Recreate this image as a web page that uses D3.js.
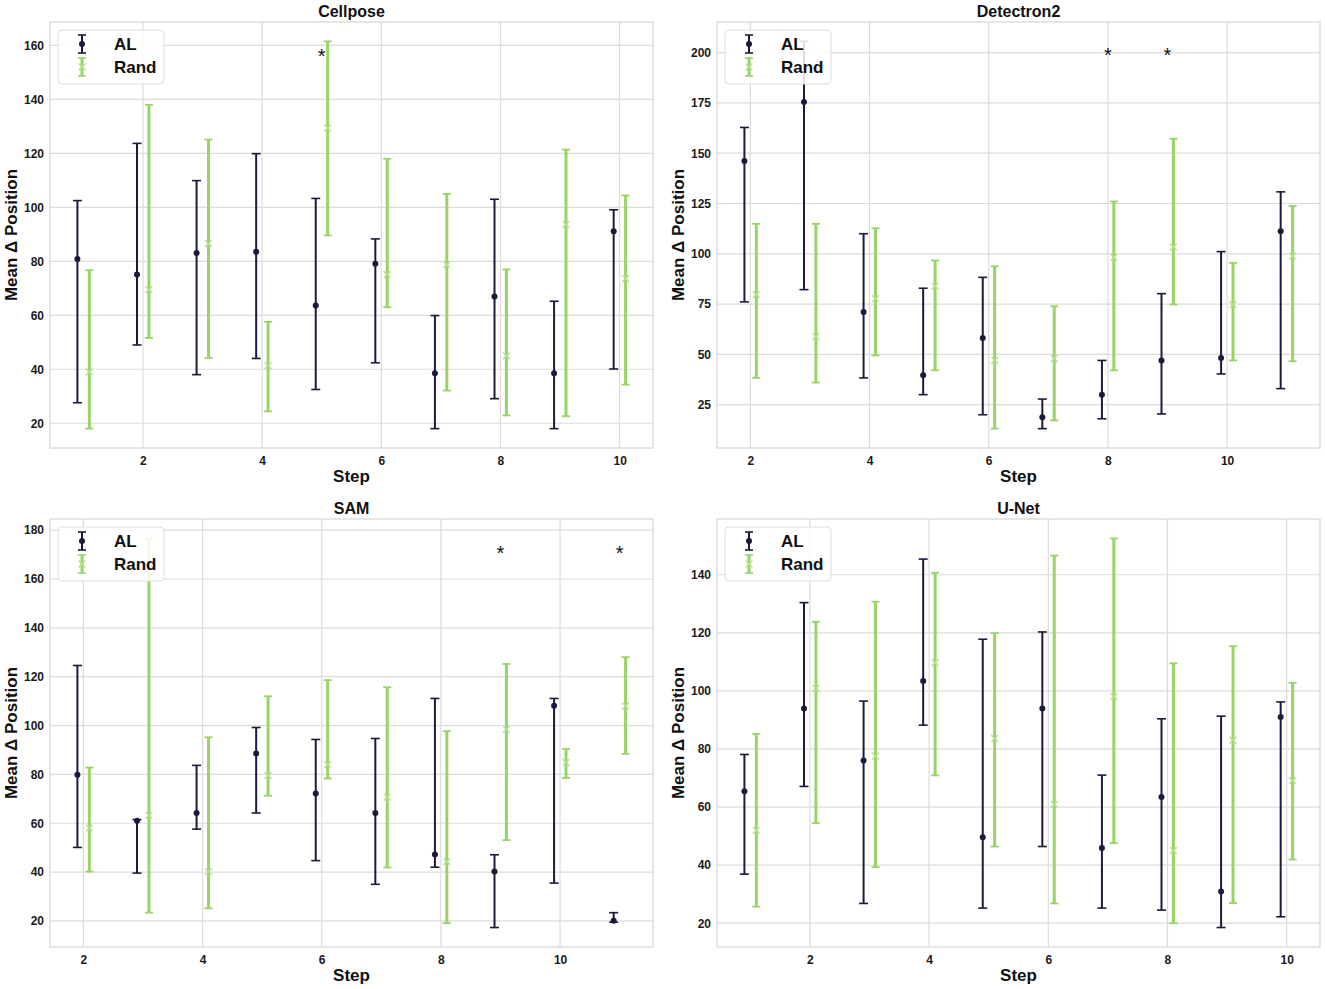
<!DOCTYPE html>
<html>
<head>
<meta charset="utf-8">
<script src="https://cdn.jsdelivr.net/npm/d3@7"></script>
<style>
  body { margin: 0; background: #fff; }
  svg { display: block; font-family: "Liberation Sans", Arial, sans-serif; }
  .tick text { font-weight: bold; font-size: 12px; fill: #1a1a1a; }
</style>
</head>
<body>
<div class="graphic"></div>
<script>
// step positions
var steps1 = [1, 2, 3, 4, 5, 6, 7, 8, 9, 10];
var steps2 = [2, 3, 4, 5, 6, 7, 8, 9, 10, 11];
var xTicks = [2, 4, 6, 8, 10];

// Cellpose
var cellposeAL = [80.9, 75.1, 83.1, 83.5, 63.6, 79.1, 38.5, 67.0, 38.5, 91.1];
var cellposeALlo = [27.6, 49.0, 38.0, 44.0, 32.5, 42.4, 18.0, 29.1, 18.0, 40.1];
var cellposeALhi = [102.5, 123.7, 109.9, 119.9, 103.3, 88.3, 59.9, 103.0, 65.2, 99.1];
var cellposeRand = [39.0, 69.5, 86.6, 41.4, 129.4, 75.1, 78.8, 45.0, 93.6, 73.6];
var cellposeRandlo = [18.0, 51.6, 44.2, 24.4, 89.6, 63.0, 32.1, 22.9, 22.6, 34.3];
var cellposeRandhi = [76.7, 138.0, 125.1, 57.6, 161.5, 118.0, 105.0, 77.0, 121.4, 104.4];
var cellposeStars = [5];
var cellposeTicks = [20, 40, 60, 80, 100, 120, 140, 160];

// Detectron2
var detectronAL = [146.1, 175.4, 71.1, 39.6, 58.2, 18.7, 30.0, 47.0, 48.2, 111.2];
var detectronALlo = [76.1, 82.2, 38.3, 30.0, 20.0, 13.1, 18.0, 20.4, 40.3, 33.0];
var detectronALhi = [162.8, 205.6, 110.0, 82.9, 88.3, 27.8, 47.0, 80.2, 101.1, 130.8];
var detectronRand = [79.7, 58.7, 77.7, 83.9, 47.0, 47.9, 98.3, 103.3, 74.8, 98.8];
var detectronRandlo = [38.3, 36.0, 49.5, 42.1, 13.1, 17.2, 42.1, 74.8, 47.0, 46.6];
var detectronRandhi = [114.9, 114.9, 112.7, 96.7, 93.8, 73.9, 126.0, 157.2, 95.5, 123.7];
var detectronStars = [8, 9];
var detectronTicks = [25, 50, 75, 100, 125, 150, 175, 200];

// SAM
var samAL = [79.9, 61.0, 64.2, 88.6, 72.2, 64.2, 47.2, 40.2, 108.1, 20.1];
var samALlo = [50.1, 39.6, 57.6, 64.2, 44.7, 35.0, 42.0, 17.3, 35.5, 19.5];
var samALhi = [124.6, 61.5, 83.7, 99.2, 94.3, 94.7, 111.1, 47.1, 111.1, 23.4];
var samRand = [58.0, 63.2, 40.2, 79.6, 84.0, 70.7, 44.3, 98.4, 84.9, 107.9];
var samRandlo = [40.2, 23.4, 25.2, 71.3, 78.3, 41.9, 19.1, 53.1, 78.5, 88.4];
var samRandhi = [82.8, 176.6, 95.2, 112.0, 118.6, 115.7, 97.7, 125.2, 90.4, 128.0];
var samStars = [9, 11];
var samTicks = [20, 40, 60, 80, 100, 120, 140, 160, 180];

// U-Net
var unetAL = [65.4, 93.9, 76.0, 103.4, 49.6, 93.9, 45.9, 63.5, 30.9, 91.0];
var unetALlo = [36.9, 67.1, 26.8, 88.2, 25.2, 46.4, 25.2, 24.5, 18.5, 22.2];
var unetALhi = [78.1, 130.4, 96.5, 145.4, 117.8, 120.3, 71.0, 90.4, 91.3, 96.2];
var unetRand = [52.0, 100.9, 77.5, 109.7, 83.6, 60.9, 98.0, 45.0, 83.0, 69.1];
var unetRandlo = [25.7, 54.5, 39.3, 70.9, 46.4, 26.8, 47.6, 20.0, 26.9, 41.9];
var unetRandhi = [85.2, 123.8, 130.7, 140.7, 119.9, 146.6, 152.5, 109.5, 115.4, 102.8];
var unetStars = [];
var unetTicks = [20, 40, 60, 80, 100, 120, 140];

var AL_COLOR = "#1c1a3c";
var RAND_COLOR = "#98d466";
var RAND_MARK = "#b5e08e";

var panels = [
  { title: "Cellpose", steps: steps1, al: cellposeAL, alLo: cellposeALlo, alHi: cellposeALhi,
    rand: cellposeRand, randLo: cellposeRandlo, randHi: cellposeRandhi, stars: cellposeStars, yTicks: cellposeTicks },
  { title: "Detectron2", steps: steps2, al: detectronAL, alLo: detectronALlo, alHi: detectronALhi,
    rand: detectronRand, randLo: detectronRandlo, randHi: detectronRandhi, stars: detectronStars, yTicks: detectronTicks },
  { title: "SAM", steps: steps2, al: samAL, alLo: samALlo, alHi: samALhi,
    rand: samRand, randLo: samRandlo, randHi: samRandhi, stars: samStars, yTicks: samTicks },
  { title: "U-Net", steps: steps1, al: unetAL, alLo: unetALlo, alHi: unetALhi,
    rand: unetRand, randLo: unetRandlo, randHi: unetRandhi, stars: unetStars, yTicks: unetTicks }
];

var W = 1325, H = 989;
var colLeft = [50, 717], plotW = 603;
var rowTop = [22, 519], rowBottom = [448, 947];

var svg = d3.select(".graphic").append("svg").attr("width", W).attr("height", H);

// matplotlib-style autoscale with 5% margins
function padded(lo, hi) {
  var m = (hi - lo) * 0.05;
  return [lo - m, hi + m];
}

function xMark(cx, cy, r) {
  return "M" + (cx - r) + "," + (cy - r) + "L" + (cx + r) + "," + (cy + r) +
         "M" + (cx - r) + "," + (cy + r) + "L" + (cx + r) + "," + (cy - r);
}

panels.forEach(function(p, i) {
  var left = colLeft[i % 2], top = rowTop[Math.floor(i / 2)], bottom = rowBottom[Math.floor(i / 2)];
  var h = bottom - top;
  var g = svg.append("g").attr("transform", "translate(" + left + "," + top + ")");

  var xs = d3.extent(p.steps);
  var x = d3.scaleLinear().domain(padded(xs[0] - 0.1, xs[1] + 0.1)).range([0, plotW]);
  var ylo = d3.min(p.alLo.concat(p.randLo)), yhi = d3.max(p.alHi.concat(p.randHi));
  var y = d3.scaleLinear().domain(padded(ylo, yhi)).range([h, 0]);

  // grid
  g.append("g").selectAll("line").data(p.yTicks).join("line")
    .attr("x1", 0).attr("x2", plotW)
    .attr("y1", function(d) { return y(d); }).attr("y2", function(d) { return y(d); })
    .attr("stroke", "#dcdcdc").attr("stroke-width", 1.2);
  g.append("g").selectAll("line").data(xTicks).join("line")
    .attr("y1", 0).attr("y2", h)
    .attr("x1", function(d) { return x(d); }).attr("x2", function(d) { return x(d); })
    .attr("stroke", "#dcdcdc").attr("stroke-width", 1.2);
  g.append("rect").attr("width", plotW).attr("height", h)
    .attr("fill", "none").attr("stroke", "#d6d6d6").attr("stroke-width", 1.2);

  // axes (labels only)
  var xAxis = g.append("g").attr("transform", "translate(0," + h + ")")
    .call(d3.axisBottom(x).tickValues(xTicks).tickFormat(d3.format("d")).tickSize(0).tickPadding(8));
  xAxis.select(".domain").remove();
  var yAxis = g.append("g")
    .call(d3.axisLeft(y).tickValues(p.yTicks).tickFormat(d3.format("d")).tickSize(0).tickPadding(6));
  yAxis.select(".domain").remove();

  // titles
  g.append("text").attr("x", plotW / 2).attr("y", -5).attr("text-anchor", "middle")
    .attr("font-size", 16).attr("font-weight", "bold").attr("fill", "#111").text(p.title);
  g.append("text").attr("x", plotW / 2).attr("y", h + 34).attr("text-anchor", "middle")
    .attr("font-size", 17).attr("font-weight", "bold").attr("fill", "#111").text("Step");
  g.append("text").attr("transform", "translate(" + (-33) + "," + (h / 2) + ") rotate(-90)")
    .attr("text-anchor", "middle").attr("font-size", 17).attr("font-weight", "bold")
    .attr("fill", "#111").text("Mean Δ Position");

  var alData = p.steps.map(function(s, k) { return { x: s - 0.1, m: p.al[k], lo: p.alLo[k], hi: p.alHi[k] }; });
  var randData = p.steps.map(function(s, k) { return { x: s + 0.1, m: p.rand[k], lo: p.randLo[k], hi: p.randHi[k] }; });

  // AL error bars
  var alG = g.append("g").attr("stroke", AL_COLOR).attr("fill", AL_COLOR);
  alG.selectAll("line.v").data(alData).join("line").attr("class", "v")
    .attr("x1", function(d) { return x(d.x); }).attr("x2", function(d) { return x(d.x); })
    .attr("y1", function(d) { return y(d.lo); }).attr("y2", function(d) { return y(d.hi); })
    .attr("stroke-width", 2);
  ["lo", "hi"].forEach(function(key) {
    alG.selectAll("line.c" + key).data(alData).join("line").attr("class", "c" + key)
      .attr("x1", function(d) { return x(d.x) - 4.5; }).attr("x2", function(d) { return x(d.x) + 4.5; })
      .attr("y1", function(d) { return y(d[key]); }).attr("y2", function(d) { return y(d[key]); })
      .attr("stroke-width", 1.6);
  });
  alG.selectAll("circle").data(alData).join("circle")
    .attr("cx", function(d) { return x(d.x); }).attr("cy", function(d) { return y(d.m); })
    .attr("r", 3).attr("stroke", "none");

  // Rand error bars
  var randG = g.append("g").attr("stroke", RAND_COLOR);
  randG.selectAll("line.v").data(randData).join("line").attr("class", "v")
    .attr("x1", function(d) { return x(d.x); }).attr("x2", function(d) { return x(d.x); })
    .attr("y1", function(d) { return y(d.lo); }).attr("y2", function(d) { return y(d.hi); })
    .attr("stroke-width", 3);
  ["lo", "hi"].forEach(function(key) {
    randG.selectAll("line.c" + key).data(randData).join("line").attr("class", "c" + key)
      .attr("x1", function(d) { return x(d.x) - 4; }).attr("x2", function(d) { return x(d.x) + 4; })
      .attr("y1", function(d) { return y(d[key]); }).attr("y2", function(d) { return y(d[key]); })
      .attr("stroke-width", 1.8);
  });
  randG.selectAll("path.mk").data(randData).join("path").attr("class", "mk")
    .attr("d", function(d) { return xMark(x(d.x), y(d.m), 3.4); })
    .attr("stroke", RAND_MARK).attr("stroke-width", 1.4).attr("fill", "none");

  // significance stars
  g.selectAll("text.star").data(p.stars).join("text").attr("class", "star")
    .attr("x", function(d) { return x(d); })
    .attr("y", y(y.domain()[1] * 0.933) + 11)
    .attr("text-anchor", "middle").attr("font-size", 20).attr("fill", "#111").text("*");

  // legend
  var lg = g.append("g").attr("transform", "translate(8,8)");
  lg.append("rect").attr("width", 106).attr("height", 54).attr("rx", 4)
    .attr("fill", "rgba(255,255,255,0.85)").attr("stroke", "#dedede");
  [{ label: "AL", c: AL_COLOR, yy: 14 }, { label: "Rand", c: RAND_COLOR, yy: 37 }].forEach(function(item, k) {
    var ix = 24;
    lg.append("line").attr("x1", ix).attr("x2", ix).attr("y1", item.yy - 9).attr("y2", item.yy + 9)
      .attr("stroke", item.c).attr("stroke-width", k ? 3 : 2);
    [-9, 9].forEach(function(dy) {
      lg.append("line").attr("x1", ix - 4).attr("x2", ix + 4).attr("y1", item.yy + dy).attr("y2", item.yy + dy)
        .attr("stroke", item.c).attr("stroke-width", 1.6);
    });
    if (k === 0) {
      lg.append("circle").attr("cx", ix).attr("cy", item.yy).attr("r", 3).attr("fill", item.c);
    } else {
      lg.append("path").attr("d", xMark(ix, item.yy, 3.4))
        .attr("stroke", RAND_MARK).attr("stroke-width", 1.4);
    }
    lg.append("text").attr("x", 56).attr("y", item.yy + 6).attr("font-size", 17).attr("font-weight", "bold")
      .attr("fill", "#111").text(item.label);
  });
});
</script>
</body>
</html>
